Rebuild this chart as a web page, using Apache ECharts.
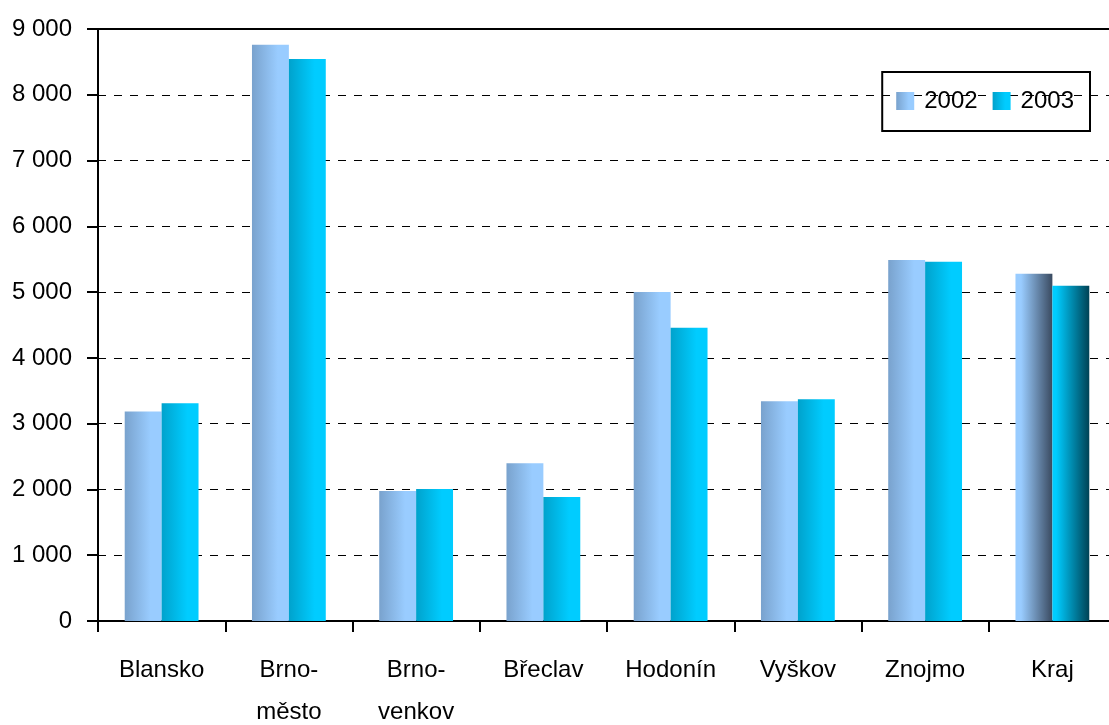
<!DOCTYPE html>
<html>
<head>
<meta charset="utf-8">
<script src="https://cdn.jsdelivr.net/npm/echarts@6/dist/echarts.min.js"></script>
<style>
  html, body { margin: 0; padding: 0; background: #fff; }
  #main { width: 1109px; height: 725px; }
</style>
</head>
<body>
<div id="main"></div>
<script>
  // okresy + kraj
  var categories = ['Blansko', 'Brno-\nměsto', 'Brno-\nvenkov', 'Břeclav', 'Hodonín', 'Vyškov', 'Znojmo', 'Kraj'];
  var values2002 = [3185, 8760, 1975, 2400, 5000, 3340, 5490, 5280];
  var values2003 = [3310, 8545, 2005, 1885, 4460, 3370, 5460, 5095];
  var seriesNames = ['2002', '2003'];

  var font = '"Liberation Sans", Arial, sans-serif';

  function grad(stops) {
    return new echarts.graphic.LinearGradient(0, 0, 1, 0, stops);
  }
  var c2002 = grad([{offset: 0, color: '#79a2cd'}, {offset: 0.7, color: '#99ccff'}, {offset: 1, color: '#99ccff'}]);
  var c2003 = grad([{offset: 0, color: '#00a2cc'}, {offset: 0.7, color: '#00ccff'}, {offset: 1, color: '#00ccff'}]);
  // Kraj ma jiny prechod
  var k2002 = grad([{offset: 0, color: '#99ccff'}, {offset: 0.15, color: '#99ccff'}, {offset: 1, color: '#3a4a60'}]);
  var k2003 = grad([{offset: 0, color: '#00ccff'}, {offset: 0.1, color: '#00ccff'}, {offset: 1, color: '#004255'}]);

  function toData(arr, lastColor) {
    return arr.map(function (v, i) {
      if (i === arr.length - 1) return {value: v, itemStyle: {color: lastColor}};
      return v;
    });
  }

  var myChart = echarts.init(document.getElementById('main'));
  var option = {
    animation: false,
    grid: {
      left: 98, top: 29, bottom: 104, right: -7,
      outerBoundsMode: 'none', containLabel: false
    },
    legend: {
      right: 19, top: 72,
      icon: 'rect',
      itemWidth: 18, itemHeight: 18, itemGap: 15,
      padding: [17, 16, 18, 14],
      borderColor: '#000', borderWidth: 2,
      textStyle: {fontFamily: font, fontSize: 24, color: '#000', lineHeight: 20, padding: [0, 0, 0, 5]},
      data: seriesNames
    },
    xAxis: [
      {
        type: 'category',
        data: categories,
        axisLine: {lineStyle: {color: '#000', width: 2}},
        axisTick: {show: true, length: 11, lineStyle: {color: '#000', width: 2}},
        axisLabel: {fontFamily: font, fontSize: 24, color: '#000', margin: 28, lineHeight: 42, interval: 0}
      },
      {
        // horni okraj plochy grafu
        type: 'category',
        position: 'top',
        data: categories,
        axisLine: {show: true, lineStyle: {color: '#000', width: 2}},
        axisTick: {show: false},
        axisLabel: {show: false},
        splitLine: {show: false}
      }
    ],
    yAxis: {
      type: 'value',
      min: 0, max: 9000, interval: 1000,
      axisLine: {show: true, lineStyle: {color: '#000', width: 2}},
      axisTick: {show: true, length: 11, lineStyle: {color: '#000', width: 2}},
      splitLine: {lineStyle: {color: '#000', type: [8, 8], width: 1}},
      axisLabel: {
        fontFamily: font, fontSize: 24, color: '#000', margin: 26,
        formatter: function (v) { return String(v).replace(/\B(?=(\d{3})+(?!\d))/g, ' '); }
      }
    },
    series: [
      {
        name: seriesNames[0], type: 'bar', barWidth: '29%', barGap: '0%',
        itemStyle: {color: c2002},
        data: toData(values2002, k2002)
      },
      {
        name: seriesNames[1], type: 'bar', barWidth: '29%', barGap: '0%',
        itemStyle: {color: c2003},
        data: toData(values2003, k2003)
      }
    ]
  };
  myChart.setOption(option);
  window.addEventListener('resize', function () { myChart.resize(); });
</script>
</body>
</html>
